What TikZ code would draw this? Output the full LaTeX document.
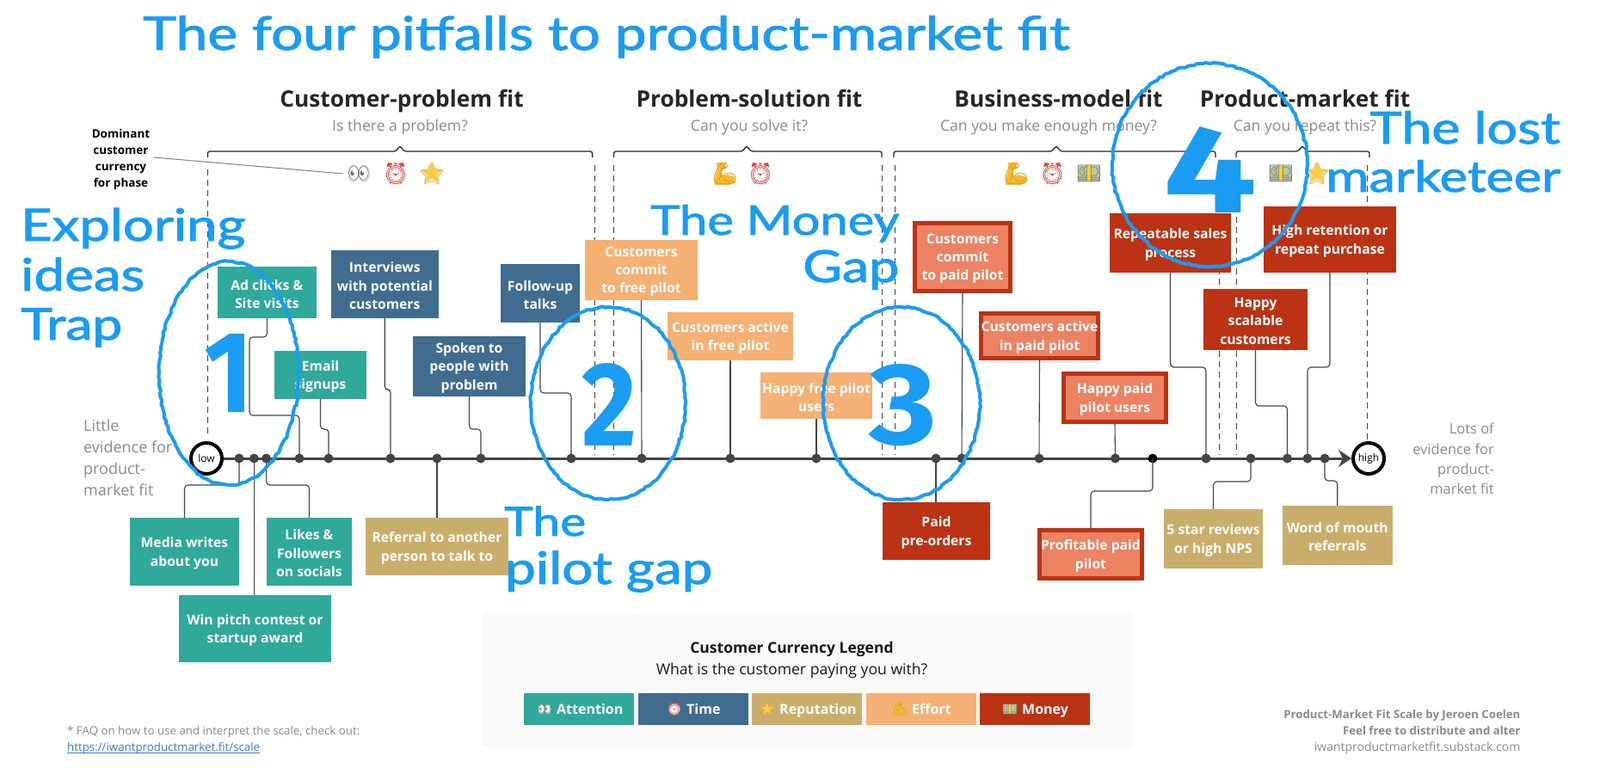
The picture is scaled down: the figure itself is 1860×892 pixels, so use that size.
\documentclass[tikz,border=0pt]{standalone}
\usepackage{fontspec}
\usepackage{graphicx}
\setmainfont{Open Sans}
\newfontfamily\emo{Noto Emoji}
\newfontfamily\hw[FakeBold=1.6]{Lato}
\newfontfamily\hwn{Fira Sans Bold}
\usetikzlibrary{arrows.meta,decorations.pathmorphing,shapes.geometric}
\definecolor{cteal}{HTML}{2FA99A}
\definecolor{cnavy}{HTML}{3F6C8F}
\definecolor{ctan}{HTML}{C9AE6B}
\definecolor{cpeach}{HTML}{F5B074}
\definecolor{cred}{HTML}{BC3214}
\definecolor{csalmon}{HTML}{EC8262}
\definecolor{chand}{HTML}{1A9CF2}
\definecolor{cgrayt}{HTML}{8A8A8A}
\definecolor{cax}{HTML}{444444}
\definecolor{clink}{HTML}{3A7BD5}
\definecolor{cclock}{HTML}{D8453C}
\definecolor{cstar}{HTML}{F8CB45}
\definecolor{cstard}{HTML}{EFA92A}
\definecolor{cmoney}{HTML}{6F7D60}
\definecolor{cmoneyl}{HTML}{BAC8AC}
\definecolor{cband}{HTML}{F4CE4A}
\definecolor{cmuscle}{HTML}{F6BB2E}
\definecolor{cmuscled}{HTML}{DE9A1C}
\tikzset{
 boxn/.style={inner sep=0pt},
 boxt/.style={inner sep=0pt,align=center,text=white,font=\fontsize{15.7}{21.3}\selectfont\bfseries},
 paid/.style={draw=cred,line width=5pt,fill=csalmon},
 conn/.style={draw=cax,line width=1.1pt,rounded corners=4pt},
 guide/.style={draw=black!75,line width=0.9pt,dash pattern=on 7pt off 5pt},
 dotn/.style={circle,fill=cax,inner sep=0pt,minimum size=11pt},
 ends/.style={circle,draw=black,line width=4pt,fill=white,minimum size=36pt,inner sep=0pt,font=\fontsize{12}{14}\selectfont},
 head/.style={anchor=base,font=\fontsize{26.3}{30}\selectfont\bfseries,text=black!85},
 sub/.style={anchor=base,font=\fontsize{17.6}{20}\selectfont,text=cgrayt},
 brk/.style={draw=black!85,line width=1.3pt,rounded corners=2.5pt},
 emon/.style={font=\emo\fontsize{25}{28}\selectfont,inner sep=0pt},
 legn/.style={inner sep=0pt},
 legt/.style={anchor=base west,inner sep=0pt,text=white,font=\fontsize{16}{20}\selectfont\bfseries},
 handring/.style={draw=chand,line width=4pt,decorate,decoration={random steps,segment length=4pt,amplitude=1pt}},
 handt/.style={anchor=base west,inner sep=0pt,text=chand},
}
\newcommand{\bx}[7]{\node[boxn,fill=#2,minimum width={(#5)-(#3)},minimum height={(#6)-(#4)}] (#1) at ({((#3)+(#5))/2},{((#4)+(#6))/2}) {};
 \node[boxt] (#1t) at ([yshift=-1.8pt]#1.center) {#7};}
\newcommand{\bxp}[6]{\node[boxn,paid,minimum width={(#4)-(#2)-5},minimum height={(#5)-(#3)-5}] (#1) at ({((#2)+(#4))/2},{((#3)+(#5))/2}) {};
 \node[boxt] (#1t) at ([yshift=-1.8pt]#1.center) {#6};}
\newcommand{\brkt}[3]{\draw[brk] (#1,183)--(#1,176)--({#2-5},176)--(#2,169.5)--({#2+5},176)--(#3,176)--(#3,183);}
\newcommand{\handw}[5]{\node[handt] (#1) at (#2,#3) {\resizebox{#4pt}{!}{\scalebox{1}[0.82]{\hw #5}}};}
\newcommand{\handn}[6]{\node[handt] (#1) at (#2,#3) {\resizebox{#4pt}{#5pt}{\hwn #6}};}
% emoji: name, x, y, scale
\newcommand{\eEyes}[4]{\begin{scope}[shift={(#2,#3)},scale=#4]
 \fill[white,draw=black!25,line width=.6pt] (-6.4,0) ellipse [x radius=6,y radius=9.5];
 \fill[white,draw=black!25,line width=.6pt] (6.4,0) ellipse [x radius=6,y radius=9.5];
 \end{scope}
 \node[emon,scale=#4*0.8,text=black!55] (#1) at (#2,#3) {👀};}
\newcommand{\eClock}[4]{\fill[white] (#2,#3) circle [radius=11*#4];
 \node[emon,scale=#4,text=cclock] (#1) at (#2,#3) {⏰};}
\newcommand{\eStar}[4]{\node[star,star points=5,star point ratio=2.3,fill=cstar,inner sep=0pt,minimum size=25pt*#4] (#1u) at (#2,#3) {};
 \node[emon,scale=#4,text=cstard] (#1) at (#2,#3) {⭐};}
\newcommand{\eMuscle}[4]{\begin{scope}[shift={(#2,#3)},scale=#4]
 \fill[cmuscle] (-10,-13) -- (0,-13) -- (0,-7) -- (-4,-3) -- (-3,3) -- (3,1) -- (11,4) -- (12,10) -- (5,13) -- (-12,13) -- (-13,8) -- (-9,-4) -- cycle;
 \end{scope}
 \node[emon,scale=#4,text=cmuscled] (#1) at (#2,#3) {💪};}
\newcommand{\eMoney}[4]{\begin{scope}[shift={(#2,#3)},scale=#4]
 \fill[cmoneyl] (-13,-9) rectangle (13,9);
 \fill[cband] (-4,-9) rectangle (4,9);
 \end{scope}
 \node[emon,scale=#4*0.9,text=cmoney] (#1) at (#2,#3) {💵};}
\begin{document}
\begin{tikzpicture}[x=1pt,y=-1pt]
\useasboundingbox (0,0) rectangle (1860,892);
\fill[white] (0,0) rectangle (1860,892);
% guides
\foreach \gx/\ga/\gb in {241/197/507,691/192/529,713.5/192/529,1025/192/529,1040/192/529,1417/192/529,1437/192/529,1589.5/192/513}{
 \draw[guide] (\gx,\ga) -- (\gx,\gb);}
% headers
\node[head] (h1) at (467,124) {Customer-problem fit};
\node[sub] (s1) at (465,152) {Is there a problem?};
\node[head] (h2) at (871,124) {Problem-solution fit};
\node[sub] (s2) at (871,152) {Can you solve it?};
\node[head] (h3) at (1230.5,124) {Business-model fit};
\node[sub] (s3) at (1219,152) {Can you make enough money?};
\node[head] (h4) at (1517,124) {Product-market fit};
\node[sub] (s4) at (1517,152) {Can you repeat this?};
\brkt{241.4}{465}{688.6}
\brkt{713.5}{868}{1025}
\brkt{1039}{1228}{1413}
\brkt{1437}{1514}{1592}
\node[align=center,font=\fontsize{13.5}{19}\selectfont\bfseries] (dom) at (140.5,185.5) {Dominant\\customer\\currency\\for phase};
% emojis
\eEyes{e1}{417}{202}{1}
\eClock{e2}{460}{202}{1}
\eStar{e3}{502}{202}{1}
\eMuscle{e4}{843}{202}{1}
\eClock{e5}{884}{202}{1}
\eMuscle{e6}{1181.5}{202}{1}
\eClock{e7}{1223.6}{202}{1}
\eMoney{e8}{1266}{202}{1}
\eMoney{e9}{1489}{202}{1}
\eStar{e10}{1531}{202}{1}
\draw[draw=black!50,line width=1pt] (179,183) -- ([xshift=-5pt]e1.west);
% axis
\node[ends] (low) at (240,533) {low};
\node[ends] (high) at (1591,533) {high};
\draw[draw=cax,line width=3pt,-{Stealth[length=15pt,width=20pt,inset=5pt]}] (low.east) -- (1571,533);
\foreach \dx/\dn in {278/278,295.4/295,309.6/310,348/348,382/382,454/454,508/508,559/559,664/664,746/746,849/849,949/949,1088/1088,1118/1118,1208/1208,1296.5/1296,1402/1402,1454/1454,1496.5/1496,1520/1520,1540/1540}{
 \node[dotn] (d\dn) at (\dx,533) {};}
\node[dotn,fill=black] (d1340) at (1340,533) {};
% boxes
\bx{ad}{cteal}{252.7}{310}{368}{370}{Ad clicks \&\\Site visits}
\bx{inter}{cnavy}{385}{291}{509.5}{370}{Interviews\\with potential\\customers}
\bx{follow}{cnavy}{582}{307}{674}{375}{Follow-up\\talks}
\bx{cfree}{cpeach}{680}{279}{811}{349}{Customers\\commit\\to free pilot}
\bx{afree}{cpeach}{776}{363}{922}{419}{Customers active\\in free pilot}
\bx{spoken}{cnavy}{480}{391}{611}{461}{Spoken to\\people with\\problem}
\bx{email}{cteal}{319}{408}{426}{464}{Email\\signups}
\bx{hfree}{cpeach}{884}{433}{1014}{487}{Happy free pilot\\users}
\bxp{cpaid}{1061}{257}{1177}{341}{Customers\\commit\\to paid pilot}
\bxp{apaid}{1138}{362}{1279}{419}{Customers active\\in paid pilot}
\bxp{hpaid}{1234}{432}{1358}{493}{Happy paid\\pilot users}
\bx{rep}{cred}{1290}{248}{1431}{317}{Repeatable sales\\process}
\bx{ret}{cred}{1469}{240}{1623}{317}{High retention or\\repeat purchase}
\bx{scal}{cred}{1399}{336}{1520}{407}{Happy\\scalable\\customers}
\bx{media}{cteal}{151}{602}{278}{681}{Media writes\\about you}
\bx{likes}{cteal}{310}{602}{409}{681}{Likes \&\\Followers\\on socials}
\bx{win}{cteal}{208}{692}{385}{770}{Win pitch contest or\\startup award}
\bx{refer}{ctan}{425}{602}{591}{669}{Referral to another\\person to talk to}
\bx{preo}{cred}{1026}{584}{1151}{651}{Paid\\pre-orders}
\bxp{prof}{1206}{614}{1330}{675}{Profitable paid\\pilot}
\bx{star}{ctan}{1353}{592}{1468}{661}{5 star reviews\\or high NPS}
\bx{word}{ctan}{1490.5}{588}{1619}{657}{Word of mouth\\referrals}
% connectors above axis
\draw[conn] (ad.south) -- (ad.south |- 0,392) -- (290,392) -- (290,483) -- (d348 |- 0,483) -- (d348.center);
\draw[conn] (email.south) -- (email.south |- 0,499) -- (d382 |- 0,499) -- (d382.center);
\draw[conn] (inter.south) -- (inter.south |- 0,453) -- (d454 |- 0,453) -- (d454.center);
\draw[conn] (spoken.south) -- (spoken.south |- 0,499) -- (d559 |- 0,499) -- (d559.center);
\draw[conn] (follow.south) -- (follow.south |- 0,457) -- (d664 |- 0,457) -- (d664.center);
\draw[conn] (cfree.south) -- (d746.center);
\draw[conn] (afree.south) -- (d849.center);
\draw[conn] (hfree.south) -- (d949.center);
\draw[conn] (cpaid.south) -- (d1118.center);
\draw[conn] (apaid.south) -- (d1208.center);
\draw[conn] (hpaid.south) -- (d1296.center);
\draw[conn] (rep.south) -- (rep.south |- 0,427) -- (d1402 |- 0,427) -- (d1402.center);
\draw[conn] (scal.south) -- (scal.south |- 0,472) -- (d1496 |- 0,472) -- (d1496.center);
\draw[conn] (ret.south) -- (ret.south |- 0,427) -- (d1520 |- 0,427) -- (d1520.center);
% connectors below axis
\draw[conn] (d278.center) -- (d278 |- 0,564) -- (media.north |- 0,564) -- (media.north);
\draw[conn] (d295.center) -- (d295 |- win.north);
\draw[conn] (d310.center) -- (d310 |- 0,564) -- (likes.north |- 0,564) -- (likes.north);
\draw[conn] (d508.center) -- (d508 |- refer.north);
\draw[conn] (d1088.center) -- (d1088 |- preo.north);
\draw[conn] (d1340.center) -- (d1340 |- 0,571) -- (prof.north |- 0,571) -- (prof.north);
\draw[conn] (d1454.center) -- (d1454 |- 0,560) -- (star.north |- 0,560) -- (star.north);
\draw[conn] (d1540.center) -- (d1540 |- 0,559) -- (word.north |- 0,559) -- (word.north);
% side texts
\node[anchor=north west,align=left,inner sep=0pt,text=cgrayt,font=\fontsize{18}{24.8}\selectfont] (lt) at (97,488) {Little\\evidence for\\product-\\market fit};
\node[anchor=north east,align=right,inner sep=0pt,text=cgrayt,font=\fontsize{16.5}{23.3}\selectfont] (rt) at (1737,492) {Lots of\\evidence for\\product-\\market fit};
% legend
\fill[fill=black!2.5] (560.5,713) rectangle (1317,869);
\node[font=\fontsize{17.5}{20}\selectfont\bfseries,text=black!90] (lg1) at (920.5,755) {Customer Currency Legend};
\node[font=\fontsize{17.6}{20}\selectfont,text=black!90] (lg2) at (920.5,780) {What is the customer paying you with?};
\newcommand{\lgb}[6]{\node[legn,fill=#2,minimum width={#4-#3},minimum height=37pt] (#1) at ({(#3+#4)/2},824.5) {};
 \node[legt] (#1t) at (#5,830.7) {#6};}
\lgb{la}{cteal}{609}{737}{647}{Attention}
\lgb{lb}{cnavy}{742}{869.5}{798}{Time}
\lgb{lc}{ctan}{874}{1002}{906}{Reputation}
\lgb{ld}{cpeach}{1006.5}{1134.6}{1060}{Effort}
\lgb{le}{cred}{1139}{1267}{1188}{Money}
\eEyes{l1}{633}{824.5}{0.58}
\eClock{l2}{784}{824.5}{0.6}
\eStar{l3}{892}{824.5}{0.6}
\eMuscle{l4}{1047}{824.5}{0.6}
\eMoney{l5}{1174}{824.5}{0.6}
% footers
\node[anchor=base west,inner sep=0pt,text=cgrayt,font=\fontsize{13.3}{16}\selectfont] (fa) at (78,854) {* FAQ on how to use and interpret the scale, check out:};
\node[anchor=base west,inner sep=0pt,text=clink,font=\fontsize{13.3}{16}\selectfont] (fb) at (78,873) {https://iwantproductmarket.fit/scale};
\draw[draw=clink,line width=0.7pt] (fb.base west) ++(0,2) -- (fb.base east |- 0,875);
\node[anchor=base east,inner sep=0pt,text=cgrayt,font=\fontsize{13.2}{16}\selectfont\bfseries] (fc) at (1767.5,835) {Product-Market Fit Scale by Jeroen Coelen};
\node[anchor=base east,inner sep=0pt,text=cgrayt,font=\fontsize{13.2}{16}\selectfont\bfseries] (fd) at (1767.5,854) {Feel free to distribute and alter};
\node[anchor=base east,inner sep=0pt,text=cgrayt,font=\fontsize{14}{16}\selectfont] (fe) at (1767.5,873) {iwantproductmarketfit.substack.com};
% hand annotations
\handw{t0}{166}{58}{1077}{The four pitfalls to product-market fit}
\handw{t1a}{24}{280}{261}{Exploring}
\handw{t1b}{24}{338}{144}{ideas}
\handw{t1c}{24}{395}{118}{Trap}
\handw{t2a}{756}{273}{289}{The Money}
\handw{t2b}{933}{328}{112}{Gap}
\handw{t3a}{586}{623}{95}{The}
\handw{t3b}{587}{679}{241}{pilot gap}
\handw{t4a}{1592.5}{167}{221}{The lost}
\handw{t4b}{1541}{223}{273}{marketeer}
\draw[handring] (266,434) ellipse [x radius=81,y radius=130];
\draw[handring] (707,469) ellipse [x radius=90,y radius=112];
\draw[handring] (1048,469) ellipse [x radius=91,y radius=112];
\draw[handring] (1406.5,192) ellipse [x radius=113.5,y radius=118];
\handn{n1}{237}{479}{57}{91}{1}
\handn{n2}{676}{518}{64}{96}{2}
\handn{n3}{1010}{516}{79}{93}{3}
\handn{n4}{1352}{247}{109}{100}{4}
\end{tikzpicture}
\end{document}
